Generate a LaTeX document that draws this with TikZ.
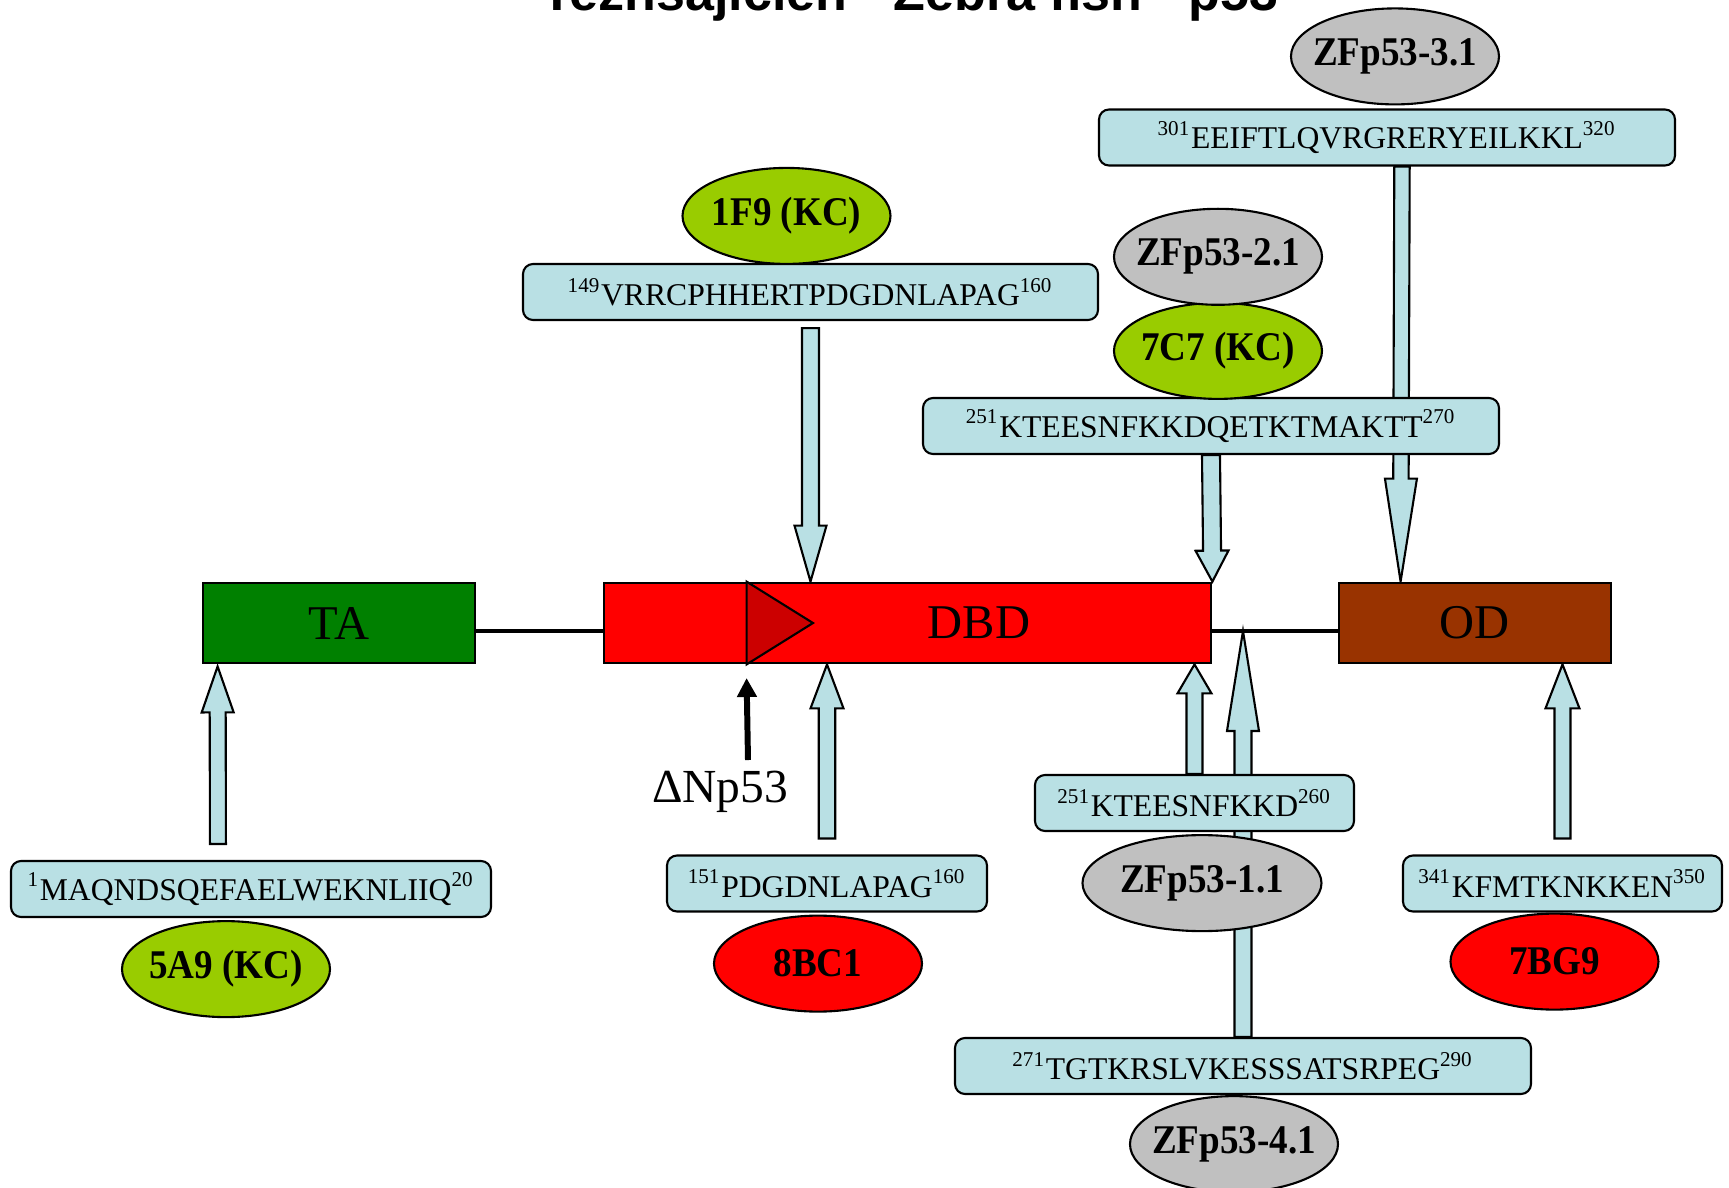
\documentclass[tikz,border=0pt]{standalone}
\usepackage{fontspec}
\setmainfont{Liberation Serif}
\newfontfamily\titlefont{Liberation Sans}
\newfontfamily\abfont[FakeStretch=0.91]{Liberation Serif}
\usetikzlibrary{shapes,arrows.meta,positioning,calc,backgrounds}

\definecolor{pepblue}{RGB}{185,224,228}
\definecolor{abgreen}{RGB}{153,204,0}
\definecolor{abgrey}{RGB}{192,192,192}
\definecolor{abred}{RGB}{255,0,0}
\definecolor{tagreen}{RGB}{0,128,0}
\definecolor{dbdred}{RGB}{255,0,0}
\definecolor{dbddark}{RGB}{204,0,0}
\definecolor{odbrown}{RGB}{153,51,0}

\newcommand\ab[1]{\makebox[0pt]{#1}}
\newcommand\fatarrow[5]{%
  \path ($(#2)!#5!(#1)$) coordinate (fa-h);
  \draw[fat arrow] ($(#1)!#3!90:(#2)$) -- ($(fa-h)!#3!90:(#2)$) -- ($(fa-h)!#4!90:(#2)$) -- (#2)
    -- ($(fa-h)!#4!-90:(#2)$) -- ($(fa-h)!#3!-90:(#2)$) -- ($(#1)!#3!-90:(#2)$) -- cycle;}

\begin{document}
\begin{tikzpicture}[x=0.1mm,y=-0.1mm,
  pep node/.style={rectangle,rounded corners=1mm,draw,line width=0.6pt,fill=pepblue,
    minimum height=5.6mm,inner sep=0pt,font=\fontsize{9}{10}\selectfont},
  ab node/.style={ellipse,draw,line width=0.6pt,minimum width=20.8mm,minimum height=9.6mm,
    inner sep=0pt,font=\abfont\fontsize{11.6}{12}\selectfont\bfseries},
  dom node/.style={rectangle,draw,line width=0.8pt,minimum height=8mm,inner sep=0pt,
    font=\fontsize{13.8}{15}\selectfont},
  fat arrow/.style={draw,line width=0.6pt,fill=pepblue,line join=miter}]

  \clip (0,0) rectangle (1729,1187);

  \node[font=\titlefont\bfseries\fontsize{14.8}{16}\selectfont,anchor=base] (title) at (910,10)
    {Teznsajicien - Zebra fish - p53};

  \node[dom node,fill=tagreen,minimum width=27.2mm] (ta) at (339,623) {TA};
  \node[dom node,fill=dbdred,minimum width=60.7mm] (dbd) at (907.5,623) {};
  \node[dom node,fill=odbrown,minimum width=27.2mm] (od) at (1475,623) {OD};

  \draw[line width=1.4pt] ([yshift=-0.8mm]ta.east) -- ([yshift=-0.8mm]dbd.west);
  \draw[line width=1.4pt] ([yshift=-0.8mm]dbd.east) -- ([yshift=-0.8mm]od.west);

  \coordinate (dn) at ($(dbd.north west)+(144,0)$);
  \draw[fill=dbddark,line width=0.6pt] (dn) -- (dbd.center -| 813,0) -- (dn |- dbd.south) -- cycle;
  \node[font=\fontsize{13.8}{15}\selectfont] (dbdlab) at (979,623) {DBD};

  \node[font=\fontsize{13.5}{15}\selectfont,anchor=base] (dnp) at (720,802) {ΔNp53};
  \coordinate (dnb) at (748,760);
  \coordinate (dnt) at (dn |- 0,678);
  \draw[line width=1.7pt,-{Triangle[length=1.9mm,width=1.9mm]}] (dnb) -- (dnt);

  \node[pep node,minimum width=57.5mm] (p149) at (810.5,292)
    {\textsuperscript{149}VRRCPHHERTPDGDNLAPAG\textsuperscript{160}};
  \node[ab node,fill=abgreen,above=-0.2mm of p149,xshift=-2.4mm] (f9) {\ab{1F9 (KC)}};

  \node[pep node,minimum width=57.6mm] (p301) at (1387,137.5)
    {\textsuperscript{301}EEIFTLQVRGRERYEILKKL\textsuperscript{320}};
  \node[ab node,fill=abgrey,above=0.3mm of p301,xshift=0.8mm] (z3) {\ab{ZFp53-3.1}};

  \node[pep node,minimum width=57.6mm] (p251a) at (1211,426)
    {\textsuperscript{251}KTEESNFKKDQETKTMAKTT\textsuperscript{270}};
  \node[ab node,fill=abgreen,above=-0.3mm of p251a,xshift=0.7mm] (c7) {\ab{7C7 (KC)}};
  \node[ab node,fill=abgrey,above=-0.4mm of c7] (z2) {\ab{ZFp53-2.1}};

  \node[pep node,minimum width=48mm] (p1) at (251,889)
    {\textsuperscript{1}MAQNDSQEFAELWEKNLIIQ\textsuperscript{20}};
  \node[ab node,fill=abgreen,below=0.2mm of p1,xshift=-2.5mm] (a9) {\ab{5A9 (KC)}};

  \node[pep node,minimum width=32mm] (p151) at (827,883.5)
    {\textsuperscript{151}PDGDNLAPAG\textsuperscript{160}};
  \node[ab node,fill=abred,below=0.2mm of p151,xshift=-0.9mm] (bc1) {\ab{8BC1}};

  \node[pep node,minimum width=31.9mm] (p251b) at (1194.5,803)
    {\textsuperscript{251}KTEESNFKKD\textsuperscript{260}};
  \node[ab node,fill=abgrey,minimum width=23.9mm,below=0.2mm of p251b,xshift=0.75mm] (z1) {\ab{ZFp53-1.1}};

  \node[pep node,minimum width=57.6mm] (p271) at (1243,1066)
    {\textsuperscript{271}TGTKRSLVKESSSATSRPEG\textsuperscript{290}};
  \node[ab node,fill=abgrey,below=0pt of p271,xshift=-0.9mm] (z4) {\ab{ZFp53-4.1}};

  \node[pep node,minimum width=31.9mm] (p341) at (1562.5,883.5)
    {\textsuperscript{341}KFMTKNKKEN\textsuperscript{350}};
  \node[ab node,fill=abred,below=0pt of p341,xshift=-0.8mm] (bg9) {\ab{7BG9}};

  \coordinate (s149) at ([yshift=-0.7mm]p149.south);
  \coordinate (t149) at (p149.south |- dbd.north);
  \coordinate (s301) at ($(p301.south)+(15,0)$);
  \coordinate (t301) at ($(od.north west)+(63,0)$);
  \coordinate (s1) at ($(p1.north west)+(208,-16)$);
  \coordinate (t1) at ($(ta.south west)+(16,2)$);
  \coordinate (s151) at ([yshift=1.6mm]p151.north);
  \coordinate (t151) at (p151.north |- dbd.south);
  \coordinate (t251) at (p251b.north |- dbd.south);
  \coordinate (s271) at (p271.north);
  \coordinate (t271) at (p271.north |- 0,631);
  \coordinate (s341) at ([yshift=1.6mm]p341.north);
  \coordinate (t341) at (p341.north |- od.south);

  \begin{scope}[on background layer]
    \fatarrow{s149}{t149}{0.85mm}{1.6mm}{5.6mm}
    \fatarrow{p251a.south}{dbd.north east}{0.9mm}{1.65mm}{3.1mm}
    \fatarrow{s301}{t301}{0.77mm}{1.6mm}{10.3mm}
    \fatarrow{s1}{t1}{0.8mm}{1.6mm}{4.6mm}
    \fatarrow{s151}{t151}{0.83mm}{1.65mm}{4.4mm}
    \fatarrow{p251b.north}{t251}{0.8mm}{1.7mm}{2.9mm}
    \fatarrow{s271}{t271}{0.85mm}{1.6mm}{10mm}
    \fatarrow{s341}{t341}{0.8mm}{1.7mm}{4.4mm}
  \end{scope}
\end{tikzpicture}
\end{document}
